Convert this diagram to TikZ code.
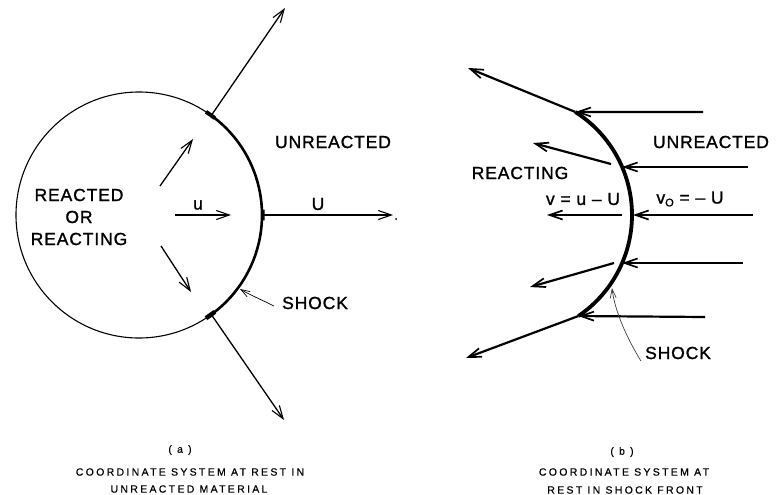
\documentclass[tikz,border=0pt]{standalone}
\usepackage{fontspec}
\setmainfont{Liberation Sans}
\newfontfamily\lblfont[LetterSpace=5,FakeBold=1.2]{Liberation Sans}
\newfontfamily\capfont[LetterSpace=22,FakeBold=0.5]{Liberation Sans}
\usetikzlibrary{arrows.meta,calc}
\begin{document}
\begin{tikzpicture}[x=1pt,y=-1pt,
 lbl/.style={font=\lblfont\fontsize{17.5}{22}\selectfont, inner sep=0pt, align=center},
 captext/.style={font=\capfont\fontsize{10.5}{14}\selectfont, inner sep=0pt, align=center},
 thinarrow/.style={line width=1.3pt, -{Straight Barb[length=13pt,width=9pt,line width=1.1pt]}},
 boldarrow/.style={line width=2.2pt, -{Straight Barb[length=13pt,width=9pt,line width=1.7pt]}},
 leader/.style={line width=0.7pt, -{Straight Barb[length=9pt,width=6pt,line width=0.7pt]}},
]
\useasboundingbox (0,0) rectangle (784,495);
% ---------- (a) ----------
\coordinate (c) at (139,215);
\draw[line width=1.1pt] (c) circle[radius=123];
\draw[line width=2.6pt] ($(c)+(-54:123)$) arc[start angle=-54,end angle=54,radius=123];
\draw[line width=4pt] ($(c)+(-57:123)$) arc[start angle=-57,end angle=-52,radius=123];
\draw[line width=3.5pt] ($(c)+(-2.5:124)$) arc[start angle=-2.5,end angle=2.5,radius=124];
\draw[line width=4.5pt] ($(c)+(52:123)$) arc[start angle=52,end angle=57,radius=123];
\coordinate (a1s) at ($(c)+(-54:123)$);
\coordinate (a1e) at (285,8);
\coordinate (a3s) at ($(c)+(54:123)$);
\coordinate (a3e) at (284,420);
\coordinate (Us) at ($(c)+(0:123)$);
\coordinate (Ue) at (393,215);
\coordinate (i1s) at (160,186); \coordinate (i1e) at (193,139);
\coordinate (i2s) at (175,215); \coordinate (i2e) at (231,215);
\coordinate (i3s) at (161,246); \coordinate (i3e) at (191,292);
\draw[thinarrow] (a1s) -- (a1e);
\draw[thinarrow] (a3s) -- (a3e);
\draw[thinarrow] (Us) -- (Ue);
\draw[thinarrow] (i1s) -- (i1e);
\draw[thinarrow] (i2s) -- (i2e);
\draw[thinarrow] (i3s) -- (i3e);
\coordinate (dot) at (396,219);
\fill (dot) circle[radius=1];
\node[lbl] (reacted) at (79,217) {REACTED\\OR\\REACTING};
\node[lbl] (unrL) at (333,142) {UNREACTED};
\node[lbl] (ulab) at (198,205) {u};
\node[lbl] (Ulab) at (318,204) {U};
\node[lbl] (shockL) at (315,303) {SHOCK};
\coordinate (shL) at (240,289);
\draw[leader] ([xshift=-8pt,yshift=-3pt]shockL.west) .. controls (258,298) and (250,295) .. (shL);
\node[captext] (capA) at (180,450) {( a )};
\node[captext] (capA1) at (190,472) {COORDINATE SYSTEM AT REST IN};
\node[captext] (capA2) at (189,489) {UNREACTED MATERIAL};
% ---------- (b) ----------
\coordinate (c2) at (510,215);
\coordinate (t) at ($(c2)+(-57.6:122)$);
\coordinate (b) at ($(c2)+(55.9:122)$);
\draw[line width=3.8pt] (t) arc[start angle=-57.6,end angle=55.9,radius=122];
\coordinate (in1) at (703,112);
\coordinate (in2) at (748,167); \coordinate (s2) at (622,167);
\coordinate (in3) at (753,215); \coordinate (s3) at (633,215);
\coordinate (in4) at (743,263); \coordinate (s4) at (622,263);
\coordinate (in5) at (705,317);
\draw[boldarrow] (in1) -- (t);
\draw[boldarrow] (in2) -- (s2);
\draw[boldarrow] (in3) -- (s3);
\draw[boldarrow] (in4) -- (s4);
\draw[boldarrow] (in5) -- (b);
\coordinate (o1) at (468,68);
\coordinate (o2s) at (611,164); \coordinate (o2) at (533,143);
\coordinate (o3s) at (622,215); \coordinate (o3) at (547,215);
\coordinate (o4s) at (614,263); \coordinate (o4) at (530,287);
\coordinate (o5) at (466,358);
\draw[boldarrow] (t) -- (o1);
\draw[boldarrow] (o2s) -- (o2);
\draw[boldarrow] (o3s) -- (o3);
\draw[boldarrow] (o4s) -- (o4);
\draw[boldarrow] (b) -- (o5);
\node[lbl] (unrR) at (711,142) {UNREACTED};
\node[lbl] (reactR) at (520,173) {REACTING};
\node[lbl] (vlab) at (583,199) {v = u – U};
\node[lbl] (v0lab) at (690,199) {v\raisebox{-0.3ex}{\fontsize{11}{11}\selectfont O} = – U};
\node[lbl] (shockR) at (678,353) {SHOCK};
\coordinate (shR) at (612,288);
\draw[leader, black!75] ([xshift=-4pt,yshift=-8pt]shockR.west) .. controls (622,330) and (614,305) .. (shR);
\node[captext] (capB) at (622,452) {( b )};
\node[captext] (capB1) at (624,472) {COORDINATE SYSTEM AT};
\node[captext] (capB2) at (625,490) {REST IN SHOCK FRONT};
\end{tikzpicture}
\end{document}
